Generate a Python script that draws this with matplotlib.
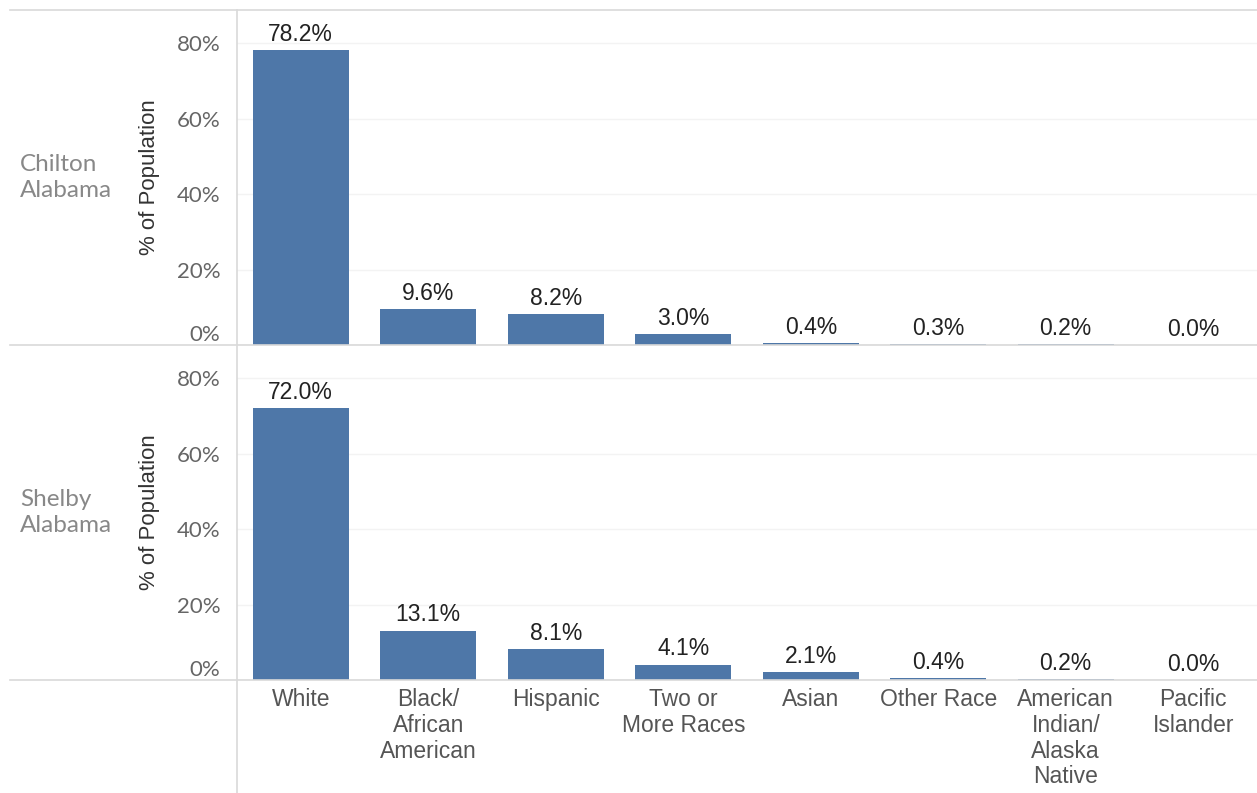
import matplotlib.pyplot as plt
from matplotlib.lines import Line2D

categories = ["White", "Black/\nAfrican\nAmerican", "Hispanic", "Two or\nMore Races",
              "Asian", "Other Race", "American\nIndian/\nAlaska\nNative", "Pacific\nIslander"]
chilton = [78.2, 9.6, 8.2, 3.0, 0.4, 0.3, 0.2, 0.0]
shelby = [72.0, 13.1, 8.1, 4.1, 2.1, 0.4, 0.2, 0.0]
rows = ["Chilton\nAlabama", "Shelby\nAlabama"]
yticks = [0, 20, 40, 60, 80]

bar_color = "#4e77a8"
line_color = "#d9d9d9"

fig = plt.figure(figsize=(12.57, 7.93), dpi=100)
W, H = 1257.0, 793.0

left = 237 / W
width = 1 - left
panels = [(10, 345), (345, 680)]
x = list(range(len(categories)))

for i, (vals, (top, bot)) in enumerate(zip([chilton, shelby], panels)):
    ax = fig.add_axes([left, 1 - bot / H, width, (bot - top) / H])
    bars = ax.bar(x, vals, width=0.75, color=bar_color, zorder=3)
    ax.bar_label(bars, labels=["%.1f%%" % v for v in vals], padding=3,
                 fontsize=16.5, family="Liberation Sans", color="#222222")
    ax.set_xlim(-0.5, len(categories) - 0.5)
    ax.set_ylim(0, 88.8)
    ax.set_yticks(yticks)
    ax.set_yticklabels(["%d%%" % t for t in yticks], family="Lato",
                       fontsize=16, color="#666666")
    # tableau keeps the bottom label inside the pane
    ax.get_yticklabels()[0].set_va("bottom")
    ax.tick_params(axis="y", length=0, pad=12)
    for s in ax.spines.values():
        s.set_visible(False)
    ax.grid(axis="y", color="#f3f3f3", lw=1, zorder=0)
    ax.set_ylabel("% of Population", family="Liberation Sans", fontsize=16,
                  color="#333333", labelpad=12)
    if i == 0:
        ax.set_xticks([])
    else:
        ax.set_xticks(x)
        ax.set_xticklabels(categories, family="Liberation Sans", fontsize=16.5,
                           color="#555555", linespacing=1.15)
        ax.tick_params(axis="x", length=0, pad=6)
    fig.text(20 / W, 1 - (top + bot) / 2 / H, rows[i], family="Lato", fontsize=17.5,
             color="#888888", va="center", ha="left", linespacing=1.3)

# frame lines
for yy in [10, 345, 680]:
    fig.add_artist(Line2D([10 / W, 1], [1 - yy / H, 1 - yy / H], color=line_color,
                          lw=1.2, transform=fig.transFigure))
fig.add_artist(Line2D([left, left], [0, 1 - 10 / H], color=line_color, lw=1.2,
                      transform=fig.transFigure))

fig.savefig("out.png", dpi=100, facecolor="white")
